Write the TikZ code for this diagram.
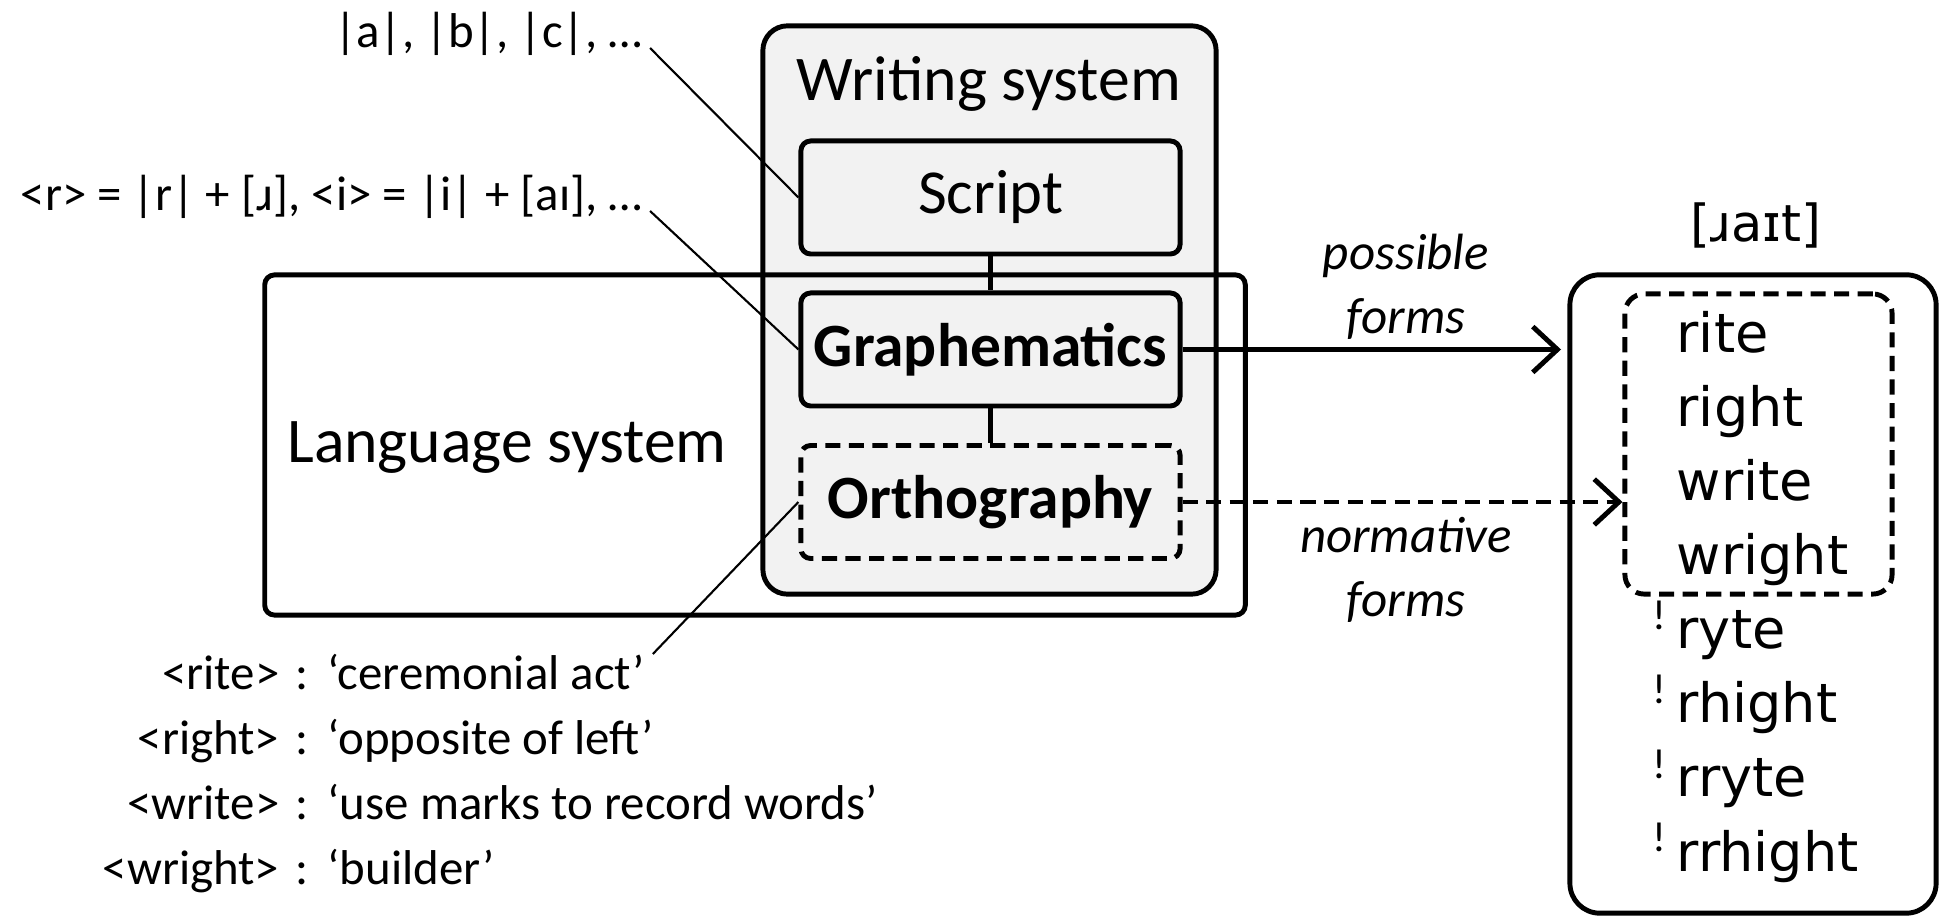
\documentclass[tikz,border=0pt]{standalone}
\usepackage{fontspec}
\setmainfont{Carlito}
\newfontfamily\formfont{DejaVu Sans}
\usetikzlibrary{arrows.meta,positioning}
\definecolor{wsgray}{HTML}{F2F2F2}
\tikzset{
  thickline/.style={line width=1.4pt},
  levelbox/.style={draw,thickline,rounded corners=2.8pt,fill=wsgray,minimum width=3.79cm,minimum height=1.13cm,font=\fontsize{17.5}{20}\selectfont\bfseries},
  bigtext/.style={font=\fontsize{18.1}{20}\selectfont,inner sep=0pt},
  note/.style={font=\fontsize{13.9}{17}\selectfont,inner sep=0pt},
  pointer/.style={line width=0.6pt},
  form/.style={font=\formfont\fontsize{15.4}{18}\selectfont,anchor=base west,inner sep=0pt},
  dashline/.style={dash pattern=on 4.3pt off 2.4pt},
  arrowtip/.style={-{Straight Barb[length=7pt,width=13pt,line width=1.4pt]}},
}
\begin{document}
\begin{tikzpicture}[x=0.01cm,y=-0.01cm]
	\useasboundingbox (0,0) rectangle (1939,916);
	% writing system with its three levels
	\node[draw,thickline,rounded corners=7pt,fill=wsgray,minimum width=4.53cm,minimum height=5.68cm] (ws) at (989.5,310) {};
	\node[bigtext] (wslabel) at (989,84) {Writing system};
	\node[draw,thickline,rounded corners=2.8pt,minimum width=9.8cm,minimum height=3.4cm] (lang) at (755,445) {};
	\node[bigtext] (langlabel) at (507,448) {Language system};
	\node[levelbox,font=\fontsize{17.8}{20}\selectfont] (script) at (990.5,197.5) {Script};
	\node[levelbox] (graph) at (990.5,349.5) {Graphematics};
	\node[levelbox,dashline] (orth) at (990.5,502) {Orthography};
	\draw[thickline] (script) -- (graph);
	\draw[thickline] (graph) -- (orth);
	% notes on the left
	\node[note,anchor=base east] (graphs) at (643,48) {|a|, |b|, |c|, …};
	\node[note,anchor=base east] (rules) at (643,211) {<r> = |r| + [ɹ], <i> = |i| + [aɪ], …};
	\foreach \w/\m [count=\i] in {rite/ceremonial act,right/opposite of left,write/use marks to record words,wright/builder}
	{
		\node[note,anchor=base east] (word\i) at (280,625+65*\i) {<\w>};
		\node[note,anchor=base] (colon\i) at (302,625+65*\i) {:};
		\node[note,anchor=base west] (mean\i) at (327,625+65*\i) {‘\m’};
	}
	\draw[pointer] ([xshift=2pt]graphs.base east) -- (script.west);
	\draw[pointer] ([xshift=2pt]rules.base east) -- (graph.west);
	\draw[pointer] ([xshift=2pt]mean1.north east) -- (orth.west);
	% forms on the right
	\node[draw,thickline,rounded corners=8.5pt,minimum width=3.66cm,minimum height=6.38cm] (forms) at (1753,594) {};
	\node[draw,thickline,dashline,rounded corners=5.5pt,minimum width=2.67cm,minimum height=3.0cm] (norm) at (1758.5,444) {};
	\node[font=\formfont\fontsize{14.5}{17}\selectfont] (sound) at (1756,225) {[ɹaɪt]};
	\foreach \w [count=\i] in {rite,right,write,wright}
		\node[form] (ok\i) at (1676,279+74*\i) {\w};
	\foreach \w [count=\i] in {ryte,rhight,rryte,rrhight}
	{
		\node[form] (bad\i) at (1676,575+74*\i) {\w};
		\node[font=\fontsize{12}{14}\selectfont,anchor=base east,inner sep=0pt] (mark\i) at (1667,556+74*\i) {!};
	}
	\coordinate (tip) at (1561,349.5);
	\draw[thickline,arrowtip] (graph.east) -- (tip);
	\draw[thickline,dashline,arrowtip] (orth.east) -- (orth.east -| norm.west);
	\node[font=\itshape\fontsize{14.5}{18.2}\selectfont,align=center] (possible) at (1406,287) {possible\\forms};
	\node[font=\itshape\fontsize{14.5}{18.2}\selectfont,align=center] (normative) at (1406,570) {normative\\forms};
\end{tikzpicture}
\end{document}
